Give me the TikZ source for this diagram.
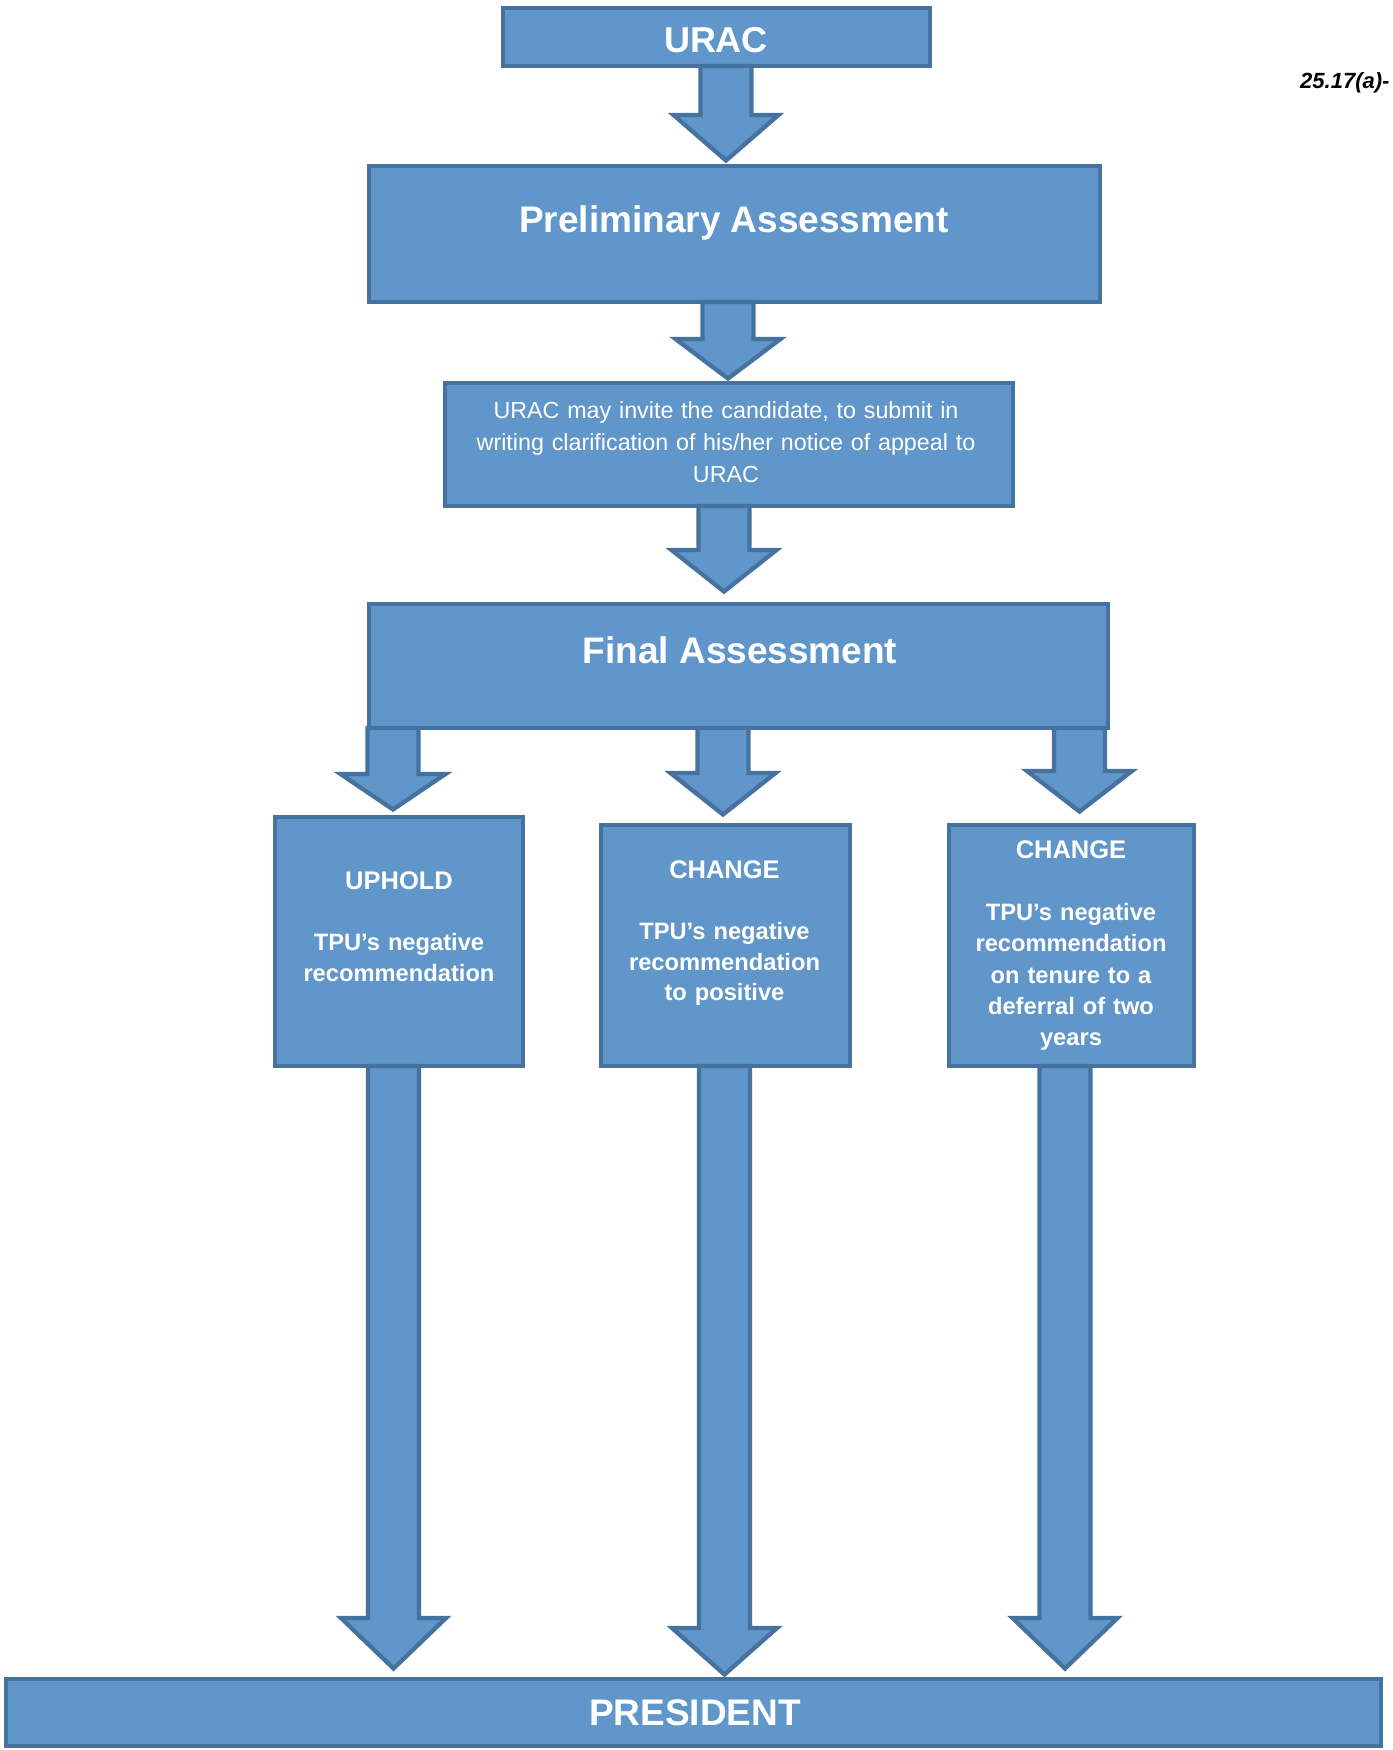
\documentclass[tikz,border=0pt]{standalone}
\usepackage{fontspec}
\setmainfont{Liberation Sans}
\usetikzlibrary{calc}
\definecolor{boxfill}{HTML}{6096C9}
\definecolor{boxline}{HTML}{45729E}
\tikzset{
  box/.style={draw=boxline, fill=boxfill, line width=4.3pt, rectangle, inner sep=0pt, outer sep=0pt, anchor=north west},
  txt/.style={text=white, inner sep=0pt, anchor=base, align=center},
  bigtxt/.style={txt, font=\bfseries\fontsize{37}{40}\selectfont},
  smalltxt/.style={txt, text width=240, font=\bfseries\fontsize{23.7}{30.7}\selectfont},
  arr/.style={draw=boxline, fill=boxfill, line width=4.3pt, line join=miter},
}
\newcommand\boxnode[5]{%
  \node[box, minimum width={#4-#2}, minimum height={#5-#3}] (#1) at (#2,#3) {};
}
% #1 source, #2 target, #3 x centre, #4 head length, #5 gap above target
\newcommand\barrow[5]{%
  \path[arr] let \p1=(#1.south), \p2=(#2.north) in
    (#3-25.5,\y1) -- (#3-25.5,\y2+#5+#4) -- (#3-52.5,\y2+#5+#4) -- (#3,\y2+#5)
    -- (#3+52.5,\y2+#5+#4) -- (#3+25.5,\y2+#5+#4) -- (#3+25.5,\y1) -- cycle;
}
\newcommand\hd[1]{{\fontsize{25.5}{30.7}\selectfont #1}}
\begin{document}
\begin{tikzpicture}[x=1pt,y=-1pt]
\useasboundingbox (0,0) rectangle (1392,1750);
\boxnode{urac}{503}{8}{930}{66}
\boxnode{prelim}{369}{166}{1100}{302}
\boxnode{invite}{445}{383}{1013}{506}
\boxnode{final}{369}{604}{1108}{728}
\boxnode{uphold}{275}{817}{523}{1066}
\boxnode{chpos}{601}{825}{850}{1066}
\boxnode{chdef}{949}{825}{1194}{1066}
\boxnode{president}{6}{1679}{1381}{1746}

\barrow{urac}{prelim}{726}{45.5}{5.5}
\barrow{prelim}{invite}{728}{39.5}{4.5}
\barrow{invite}{final}{724}{41.5}{12.5}
\barrow{final}{uphold}{393}{35.5}{7.5}
\barrow{final}{chpos}{723}{41.5}{10.5}
\barrow{final}{chdef}{1079.5}{40.5}{13.5}
\barrow{uphold}{president}{393.5}{50.5}{10.5}
\barrow{chpos}{president}{724.5}{46.5}{4.5}
\barrow{chdef}{president}{1065}{50.5}{10.5}

\node[txt, font=\bfseries\fontsize{36}{40}\selectfont] (uract) at (716,53) {URAC};
\node[bigtxt] (prelimt) at (734,232) {Preliminary Assessment};
\node[txt, text width=560, font=\fontsize{23.3}{32}\selectfont] (invitet) at (726,418)
  {URAC may invite the candidate, to submit in\\ writing clarification of his/her notice of appeal to\\ URAC};
\node[bigtxt] (finalt) at (740,663) {Final Assessment};
\node[smalltxt] (upholdt) at (399,889) {\hd{UPHOLD}\\[30.7pt] TPU’s negative\\ recommendation};
\node[smalltxt] (chpost) at (724.5,878) {\hd{CHANGE}\\[30.7pt] TPU’s negative\\ recommendation\\ to positive};
\node[smalltxt, font=\bfseries\fontsize{23.7}{31.3}\selectfont] (chdeft) at (1071,858) {\hd{CHANGE}\\[31.3pt] TPU’s negative\\ recommendation\\ on tenure to a\\ deferral of two\\ years};
\node[bigtxt] (prest) at (695,1725) {PRESIDENT};
\node[anchor=base west, inner sep=0pt, font=\bfseries\itshape\fontsize{22}{26}\selectfont] (ref) at (1300,89) {25.17(a)-};
\end{tikzpicture}
\end{document}
